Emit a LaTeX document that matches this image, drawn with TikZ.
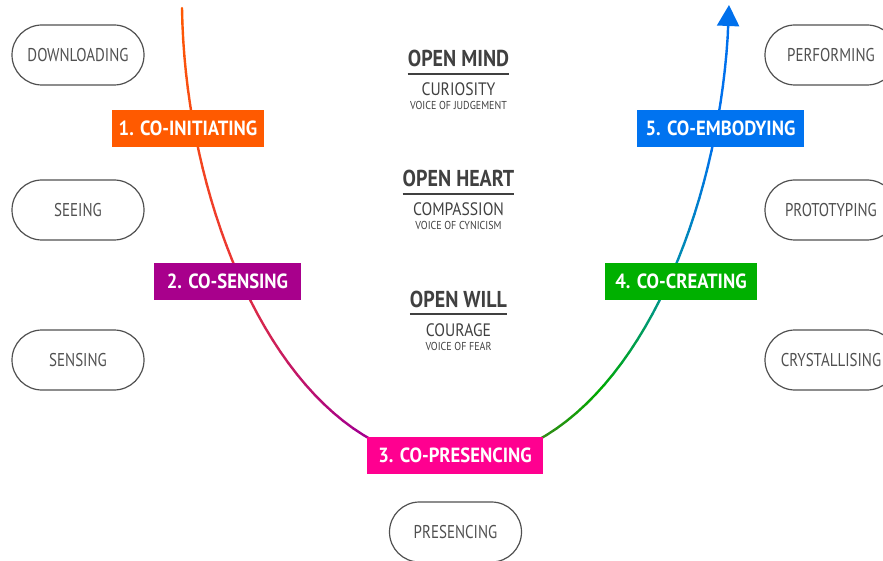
\documentclass[tikz,border=0pt]{standalone}
\usepackage{fontspec}
\setmainfont{PT Sans}[FakeStretch=0.87]
\newfontfamily\fieldfont{PT Sans}[FakeStretch=0.81]
\newfontfamily\stagefont{PT Sans}[FakeStretch=0.91]
\usetikzlibrary{arrows.meta}
\definecolor{initOrange}{RGB}{255,90,0}
\definecolor{sensePurple}{RGB}{168,0,140}
\definecolor{presencePink}{RGB}{255,0,144}
\definecolor{createGreen}{RGB}{0,176,0}
\definecolor{embodyBlue}{RGB}{0,115,240}
\definecolor{leftMid}{RGB}{236,56,50}
\definecolor{leftPurple}{RGB}{165,0,140}
\definecolor{rightOlive}{RGB}{120,98,56}
\definecolor{rightGreen}{RGB}{0,170,0}
\definecolor{rightTeal}{RGB}{0,145,165}
\definecolor{rightBlue}{RGB}{0,112,236}
\definecolor{pillGray}{RGB}{80,80,80}
\definecolor{textGray}{RGB}{64,64,64}
\tikzset{
  stage/.style={inner xsep=4pt, inner ysep=0pt, minimum height=37pt, text=white,
    font=\fontsize{20.5}{20.5}\stagefont\bfseries},
  field/.style={draw=pillGray, line width=1.2pt, rounded corners=30pt,
    minimum width=132pt, minimum height=60pt, text=pillGray,
    font=\fontsize{18.5}{18.5}\fieldfont},
  opening/.style={anchor=base, inner xsep=0pt, text=textGray,
    font=\fontsize{23}{23}\selectfont\bfseries},
  quality/.style={anchor=base, inner sep=0pt, text=textGray,
    font=\fontsize{18}{18}\selectfont},
  voice/.style={anchor=base, inner sep=0pt, text=textGray,
    font=\fontsize{11.5}{11.5}\selectfont},
  rule/.style={draw=textGray, line width=1.5pt},
  ucurve/.style={line width=2.4pt, line cap=round}
}
\begin{document}
\begin{tikzpicture}[x=1pt,y=-1pt]
  \useasboundingbox (0,0) rectangle (883,561);
  \path (182,8) .. controls (185,220) and (290,462) .. (455,462)
    foreach \i in {0,...,40} {coordinate[pos=\i/40] (l\i)};
  \path (455,462) .. controls (620,462) and (725,220) .. (729,5)
    foreach \i in {0,...,40} {coordinate[pos=\i/40] (r\i)};
  \foreach \i in {1,...,40}{
    \pgfmathtruncatemacro\j{\i-1}
    \ifnum\i<17
      \pgfmathtruncatemacro\p{100*\i/16}
      \colorlet{segColor}{leftMid!\p!initOrange}
    \else\ifnum\i<33
      \pgfmathtruncatemacro\p{100*(\i-16)/16}
      \colorlet{segColor}{leftPurple!\p!leftMid}
    \else
      \colorlet{segColor}{leftPurple}
    \fi\fi
    \draw[ucurve, segColor] (l\j) -- (l\i);
  }
  \foreach \i in {1,...,38}{
    \pgfmathtruncatemacro\j{\i-1}
    \ifnum\i<15
      \pgfmathtruncatemacro\p{100*\i/14}
      \colorlet{segColor}{rightGreen!\p!rightOlive}
    \else\ifnum\i<24
      \pgfmathtruncatemacro\p{100*(\i-14)/9}
      \colorlet{segColor}{rightTeal!\p!rightGreen}
    \else\ifnum\i<33
      \pgfmathtruncatemacro\p{100*(\i-23)/9}
      \colorlet{segColor}{rightBlue!\p!rightTeal}
    \else
      \colorlet{segColor}{rightBlue}
    \fi\fi\fi
    \draw[ucurve, segColor] (r\j) -- (r\i);
  }
  \draw[ucurve, rightBlue, -{Triangle[length=21pt,width=22pt]}] (r38) -- (r40);

  \node[stage, fill=initOrange, minimum width=152pt] (initiating) at (188,128.5) {1. CO-INITIATING};
  \node[stage, fill=sensePurple, minimum width=147pt] (sensing) at (227.5,281.5) {2. CO-SENSING};
  \node[stage, fill=presencePink, minimum width=176pt] (presencing) at (455,455.5) {3. CO-PRESENCING};
  \node[stage, fill=createGreen, minimum width=152pt] (creating) at (681,281.5) {4. CO-CREATING};
  \node[stage, fill=embodyBlue, minimum width=167pt] (embodying) at (720.5,128.5) {5. CO-EMBODYING};

  \node[field] (downloading) at (78,55) {DOWNLOADING};
  \node[field] (seeing) at (78,210) {SEEING};
  \node[field] (sensingF) at (78,360) {SENSING};
  \node[field] (performing) at (831,55) {PERFORMING};
  \node[field] (prototyping) at (831,210) {PROTOTYPING};
  \node[field] (crystallising) at (831,360) {CRYSTALLISING};
  \node[field] (presencingF) at (455.5,532) {PRESENCING};

  \node[opening] (mind) at (458.5,67) {OPEN MIND};
  \draw[rule] ([yshift=-7pt]mind.base west) -- ([yshift=-7pt]mind.base east);
  \node[quality] (curiosity) at (458.5,96) {CURIOSITY};
  \node[voice] (judgement) at (458.5,110) {VOICE OF JUDGEMENT};

  \node[opening] (heart) at (458.5,187) {OPEN HEART};
  \draw[rule] ([yshift=-7pt]heart.base west) -- ([yshift=-7pt]heart.base east);
  \node[quality] (compassion) at (458.5,216) {COMPASSION};
  \node[voice] (cynicism) at (458.5,230) {VOICE OF CYNICISM};

  \node[opening] (will) at (458.5,307) {OPEN WILL};
  \draw[rule] ([yshift=-7pt]will.base west) -- ([yshift=-7pt]will.base east);
  \node[quality] (courage) at (458.5,336) {COURAGE};
  \node[voice] (fear) at (458.5,350) {VOICE OF FEAR};
\end{tikzpicture}
\end{document}
